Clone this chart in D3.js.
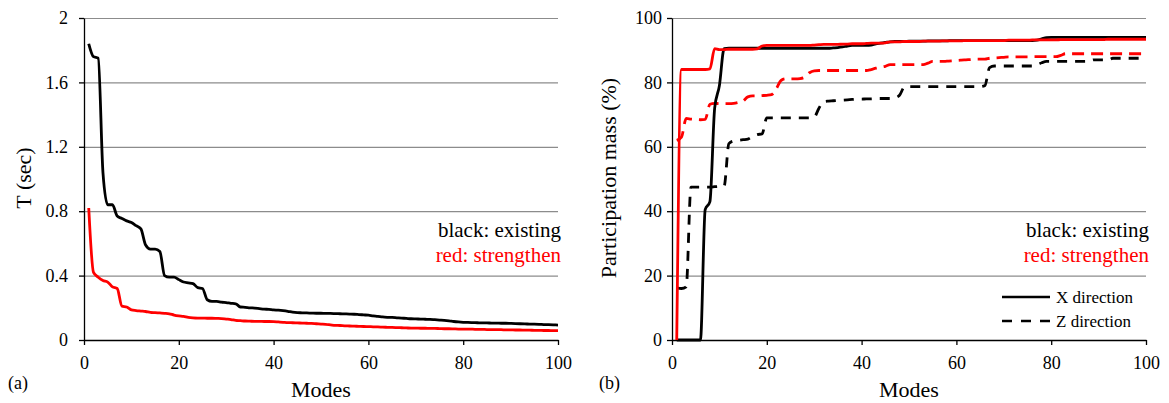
<!DOCTYPE html>
<html>
<head>
<meta charset="utf-8">
<script src="https://cdn.jsdelivr.net/npm/d3@7"></script>
<style>
  body { margin: 0; background: #fff; }
  svg text { font-family: "Liberation Serif", Tinos, "Times New Roman", "DejaVu Serif", serif !important; }
</style>
</head>
<body>
<script>
// modes 1..100
var modes = d3.range(1, 101);

// (a) period T (sec)
var tExisting = [
  1.84, 1.76, 1.75, 1.04, 0.84, 0.84, 0.77, 0.755, 0.74, 0.73,
  0.71, 0.69, 0.59, 0.565, 0.565, 0.55, 0.40, 0.39, 0.39, 0.375,
  0.36, 0.355, 0.35, 0.325, 0.32, 0.25, 0.24, 0.24, 0.235, 0.232,
  0.228, 0.225, 0.205, 0.203, 0.2, 0.198, 0.195, 0.192, 0.19, 0.187,
  0.185, 0.182, 0.178, 0.173, 0.17, 0.169, 0.168, 0.167, 0.166, 0.166,
  0.165, 0.165, 0.164, 0.163, 0.162, 0.161, 0.16, 0.158, 0.156, 0.154,
  0.15, 0.147, 0.143, 0.141, 0.14, 0.138, 0.136, 0.134, 0.132, 0.131,
  0.13, 0.129, 0.128, 0.126, 0.124, 0.122, 0.119, 0.115, 0.112, 0.11,
  0.109, 0.108, 0.107, 0.106, 0.106, 0.105, 0.105, 0.104, 0.104, 0.103,
  0.102, 0.101, 0.1, 0.099, 0.098, 0.097, 0.096, 0.095, 0.094, 0.093
];
var tStrengthen = [
  0.82, 0.42, 0.39, 0.37, 0.36, 0.33, 0.32, 0.21, 0.205, 0.187,
  0.183, 0.18, 0.177, 0.172, 0.17, 0.168, 0.166, 0.163, 0.155, 0.15,
  0.147, 0.14, 0.137, 0.136, 0.136, 0.135, 0.135, 0.134, 0.133, 0.13,
  0.127, 0.122, 0.12, 0.118, 0.117, 0.116, 0.116, 0.115, 0.115, 0.114,
  0.112, 0.11, 0.108, 0.107, 0.106, 0.105, 0.104, 0.103, 0.101, 0.099,
  0.097, 0.094, 0.091, 0.09, 0.088, 0.087, 0.086, 0.085, 0.084, 0.083,
  0.082, 0.081, 0.08, 0.079, 0.078, 0.077, 0.076, 0.075, 0.074, 0.074,
  0.073, 0.073, 0.072, 0.072, 0.071, 0.07, 0.07, 0.069, 0.068, 0.068,
  0.067, 0.067, 0.066, 0.066, 0.065, 0.065, 0.064, 0.064, 0.063, 0.063,
  0.062, 0.062, 0.061, 0.061, 0.06, 0.06, 0.059, 0.059, 0.058, 0.058
];

// (b) participation mass (%)
var xExisting = [
  0, 0, 0, 0, 0, 0, 40.5, 43, 72, 79,
  90.5, 90.6, 90.6, 90.6, 90.6, 90.6, 90.6, 90.6, 90.6, 90.6,
  90.6, 90.6, 90.6, 90.6, 90.6, 90.6, 90.6, 90.6, 90.6, 90.6,
  90.6, 90.6, 90.6, 90.7, 90.8, 91, 91.3, 91.5, 91.5, 91.5,
  91.5, 91.6, 92, 92.2, 92.4, 92.6, 92.7, 92.7, 92.7, 92.8,
  92.8, 92.8, 92.8, 92.9, 92.9, 92.9, 92.9, 92.9, 93, 93,
  93, 93, 93, 93, 93, 93, 93, 93, 93, 93,
  93, 93, 93, 93, 93, 93, 93.1, 93.5, 93.9, 94,
  94, 94, 94, 94, 94, 94, 94, 94, 94, 94,
  94, 94, 94, 94, 94, 94, 94, 94, 94, 94
];
var xStrengthen = [
  0, 84, 84, 84, 84, 84, 84, 84.2, 90.5, 90.2,
  90.2, 90.3, 90.3, 90.3, 90.3, 90.3, 90.3, 90.4, 91.3, 91.5,
  91.5, 91.5, 91.5, 91.5, 91.5, 91.5, 91.5, 91.5, 91.5, 91.6,
  91.7, 91.8, 91.8, 91.8, 91.8, 91.9, 91.9, 92, 92, 92,
  92.1, 92.2, 92.2, 92.2, 92.3, 92.6, 92.6, 92.6, 92.7, 92.7,
  92.7, 92.7, 92.8, 92.8, 92.8, 92.8, 92.9, 92.9, 92.9, 92.9,
  92.9, 93, 93, 93, 93, 93, 93, 93, 93, 93,
  93.1, 93.1, 93.1, 93.1, 93.1, 93.2, 93.2, 93.2, 93.2, 93.2,
  93.2, 93.3, 93.3, 93.3, 93.3, 93.3, 93.3, 93.3, 93.3, 93.3,
  93.3, 93.4, 93.4, 93.4, 93.4, 93.4, 93.4, 93.4, 93.4, 93.4
];
var zExisting = [
  16.2, 16, 16.5, 47.5, 47.5, 47.5, 47.5, 47.5, 47.6, 47.7,
  47.8, 61, 61.8, 62, 62.2, 62.4, 63.2, 63.8, 64, 69,
  69, 69, 69, 69, 69, 69, 69, 69, 69, 69.2,
  72, 74, 74.2, 74.3, 74.4, 74.5, 74.6, 74.7, 74.8, 74.8,
  74.9, 74.9, 75, 75, 75, 75, 75.2, 76, 78.5, 78.7,
  78.7, 78.7, 78.7, 78.7, 78.7, 78.7, 78.7, 78.7, 78.7, 78.7,
  78.7, 78.7, 78.7, 78.7, 78.7, 79, 84.6, 85.1, 85.1, 85.1,
  85.1, 85.1, 85.1, 85.1, 85.1, 85.1, 85.5, 86.1, 86.5, 86.5,
  86.5, 86.5, 86.5, 86.5, 86.5, 86.5, 86.5, 86.6, 87, 87,
  87, 87, 87.5, 87.5, 87.5, 87.5, 87.5, 87.5, 87.5, 87.5
];
var zStrengthen = [
  62, 63, 68.8, 68.6, 68.5, 68.4, 68.5, 73.2, 73.5, 73.4,
  73.4, 73.4, 73.5, 73.8, 74.2, 75.5, 75.8, 75.8, 75.9, 76,
  76.2, 78, 80.6, 81.1, 81.1, 81.1, 81.2, 81.6, 83, 83.6,
  83.7, 83.7, 83.7, 83.7, 83.7, 83.7, 83.7, 83.7, 83.7, 83.7,
  83.7, 84, 84.4, 84.7, 85, 85.5, 85.5, 85.5, 85.5, 85.5,
  85.5, 85.5, 85.5, 86, 86.5, 86.5, 86.5, 86.6, 86.7, 86.8,
  86.9, 87, 87.1, 87.2, 87.2, 87.2, 87.5, 87.6, 87.7, 87.8,
  87.9, 87.9, 87.9, 87.9, 87.9, 88, 88, 88, 88, 88,
  88, 88.4, 88.9, 88.9, 88.9, 88.9, 88.9, 88.9, 88.9, 88.9,
  88.9, 88.9, 88.9, 88.9, 88.9, 88.9, 88.9, 88.9, 88.9, 88.9
];

var xTicks = [0, 20, 40, 60, 80, 100];
var tTicks = [0, 0.4, 0.8, 1.2, 1.6, 2];
var pTicks = [0, 20, 40, 60, 80, 100];

var serif = "'Liberation Serif', Tinos, 'Times New Roman', 'DejaVu Serif', serif";

var svg = d3.select("body")
  .append("svg")
  .attr("width", 1169)
  .attr("height", 403)
  .attr("font-family", serif);

function panel(opt) {
  var x = d3.scaleLinear().domain([0, 100]).range([opt.left, opt.right]);
  var y = d3.scaleLinear().domain(opt.yDomain).range([340, 18]);
  var w = opt.right - opt.left;

  // gridlines
  svg.append("g")
    .attr("transform", "translate(" + opt.left + ",0)")
    .call(d3.axisLeft(y).tickValues(opt.yTicks.slice(1)).tickSize(-w).tickFormat(""))
    .call(function(g) {
      g.select(".domain").remove();
      g.selectAll("line").attr("stroke", "#8c8c8c").attr("stroke-width", 1.2);
    });

  // y axis
  svg.append("g")
    .attr("transform", "translate(" + opt.left + ",0)")
    .call(d3.axisLeft(y).tickValues(opt.yTicks).tickSize(5).tickSizeOuter(0)
      .tickPadding(opt.yPad).tickFormat(opt.yFormat))
    .attr("font-family", serif)
    .call(function(g) {
      g.selectAll("text").style("font-size", "18px").attr("fill", "#000");
      g.selectAll("line, path").attr("stroke", "#000").attr("stroke-width", 1.3);
    });

  // x axis
  svg.append("g")
    .attr("transform", "translate(0,340)")
    .call(d3.axisBottom(x).tickValues(xTicks).tickSize(5).tickSizeOuter(0).tickPadding(11))
    .attr("font-family", serif)
    .call(function(g) {
      g.selectAll("text").style("font-size", "18px").attr("fill", "#000");
      g.selectAll("line, path").attr("stroke", "#000").attr("stroke-width", 1.3);
    });

  // series
  opt.series.forEach(function(s) {
    var line = d3.line()
      .x(function(d, i) { return x(modes[i]); })
      .y(function(d) { return y(d); })
      .curve(d3.curveMonotoneX);
    svg.append("path")
      .datum(s.values)
      .attr("fill", "none")
      .attr("stroke", s.color)
      .attr("stroke-width", 2.8)
      .attr("stroke-dasharray", s.dash || null)
      .attr("d", line);
  });

  // axis titles
  svg.append("text")
    .attr("x", (opt.left + opt.right) / 2)
    .attr("y", 397)
    .attr("text-anchor", "middle")
    .style("font-size", "22px")
    .text("Modes");

  svg.append("text")
    .attr("transform", "translate(" + opt.yTitleX + ",178) rotate(-90)")
    .attr("text-anchor", "middle")
    .style("font-size", "22px")
    .text(opt.yTitle);

  svg.append("text")
    .attr("x", opt.tagX)
    .attr("y", 389)
    .style("font-size", "18px")
    .text(opt.tag);

  // colour note
  svg.append("text")
    .attr("x", opt.right + 3)
    .attr("y", 237)
    .attr("text-anchor", "end")
    .style("font-size", "21px")
    .attr("fill", "#000")
    .text("black: existing");
  svg.append("text")
    .attr("x", opt.right + 3)
    .attr("y", 262)
    .attr("text-anchor", "end")
    .style("font-size", "21px")
    .attr("fill", "#ff0000")
    .text("red: strengthen");

  return { x: x, y: y };
}

panel({
  left: 84, right: 558,
  yDomain: [0, 2], yTicks: tTicks, yPad: 11,
  yFormat: function(d) { return d === 0 || d === 2 ? d3.format("d")(d) : d3.format(".1f")(d); },
  yTitle: "T (sec)", yTitleX: 31,
  tag: "(a)", tagX: 8,
  series: [
    { values: tExisting, color: "#000" },
    { values: tStrengthen, color: "#ff0000" }
  ]
});

panel({
  left: 672, right: 1146,
  yDomain: [0, 100], yTicks: pTicks, yPad: 5,
  yFormat: d3.format("d"),
  yTitle: "Participation mass (%)", yTitleX: 616,
  tag: "(b)", tagX: 599,
  series: [
    { values: zExisting, color: "#000", dash: "10,8" },
    { values: zStrengthen, color: "#ff0000", dash: "12,7" },
    { values: xExisting, color: "#000" },
    { values: xStrengthen, color: "#ff0000" }
  ]
});

// line style legend in (b)
var legendItems = [
  { label: "X direction", dash: null, y: 297 },
  { label: "Z direction", dash: "10,9", y: 321 }
];
legendItems.forEach(function(d) {
  svg.append("line")
    .attr("x1", 1002).attr("x2", 1050)
    .attr("y1", d.y).attr("y2", d.y)
    .attr("stroke", "#000")
    .attr("stroke-width", 2.4)
    .attr("stroke-dasharray", d.dash);
  svg.append("text")
    .attr("x", 1056)
    .attr("y", d.y + 6)
    .style("font-size", "17px")
    .text(d.label);
});
</script>
</body>
</html>
